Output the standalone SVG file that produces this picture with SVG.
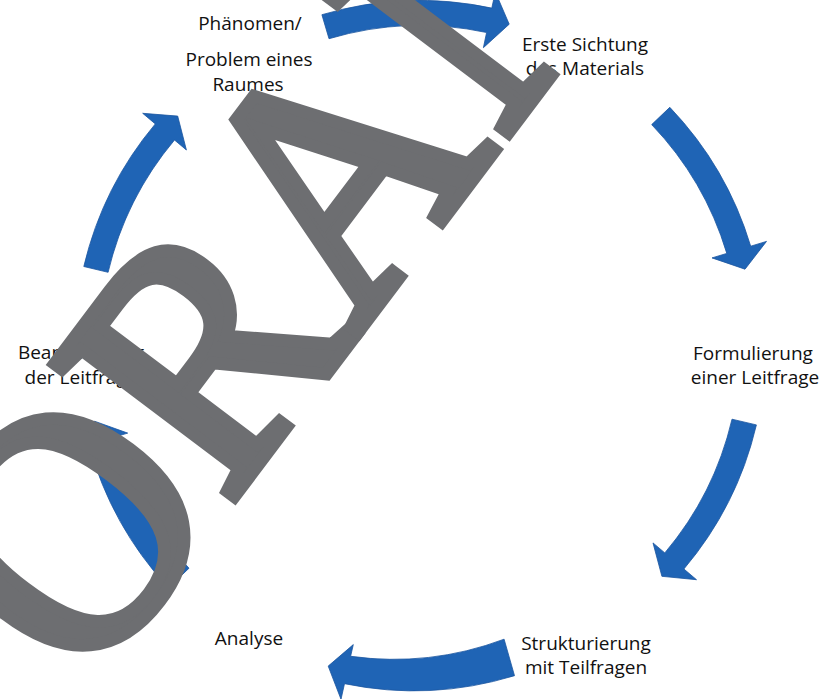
<svg xmlns="http://www.w3.org/2000/svg" width="822" height="699" viewBox="0 0 822 699">
  <style>
    .arrow { fill: #1f64b5; stroke: #1a56a0; stroke-width: 0.8; stroke-linejoin: miter; }
    .lbl { font-family: "Open Sans", "Noto Sans", "Liberation Sans", sans-serif; font-size: 19px; fill: #111111; text-anchor: middle; }
    .wm { font-family: "Liberation Serif", "Times New Roman", serif; font-size: 341px; fill: #6d6e71; stroke: #6d6e71; stroke-width: 13; stroke-linejoin: miter; stroke-miterlimit: 4; font-kerning: none; }
  </style>
  <rect width="822" height="699" fill="#ffffff"/>
  <g id="connectors">
    <path id="arrow1" class="arrow" d="M 321.9 14.7 A 345.5 345.5 0 0 1 491.8 8.1 L 495.3 -8.1 L 509.2 24.2 L 483.4 47.7 L 486.6 32.5 A 320.5 320.5 0 0 0 329.0 38.7 Z"/>
    <path id="arrow2" class="arrow" d="M 669.8 107.3 A 345.5 345.5 0 0 1 750.7 246.2 L 766.5 241.4 L 745.0 269.2 L 712.0 257.9 L 726.8 253.4 A 320.5 320.5 0 0 0 651.7 124.6 Z"/>
    <path id="arrow3" class="arrow" d="M 756.4 424.9 A 345.5 345.5 0 0 1 683.9 569.0 L 696.5 579.7 L 661.9 576.3 L 653.0 542.9 L 664.8 552.9 A 320.5 320.5 0 0 0 732.0 419.2 Z"/>
    <path id="arrow4" class="arrow" d="M 514.5 675.7 A 345 345 0 0 1 344.5 683.7 L 341.0 699.3 L 328.2 666.1 L 353.3 644.6 L 350.6 656.3 A 315 315 0 0 0 504.1 639.2 Z"/>
    <path id="arrow5" class="arrow" d="M 168.5 588.0 A 347 347 0 0 1 88.9 444.7 L 73.1 449.4 L 94.5 421.2 L 127.7 433.1 L 112.9 437.6 A 320.5 320.5 0 0 0 189.0 568.2 Z"/>
    <path id="arrow6" class="arrow" d="M 83.8 266.5 A 345.5 345.5 0 0 1 155.3 123.9 L 142.7 113.3 L 177.7 116.1 L 186.4 150.0 L 174.5 140.0 A 320.5 320.5 0 0 0 108.1 272.3 Z"/>
  </g>
  <g id="node-phaenomen">
    <text class="lbl" x="250" y="30">Phänomen/</text>
    <text class="lbl" x="249" y="66">Problem eines</text>
    <text class="lbl" x="248" y="91">Raumes</text>
  </g>
  <g id="node-sichtung">
    <text class="lbl" x="585" y="51">Erste Sichtung</text>
    <text class="lbl" x="585" y="75">des Materials</text>
  </g>
  <g id="node-formulierung">
    <text class="lbl" x="753" y="360">Formulierung</text>
    <text class="lbl" x="755" y="384">einer Leitfrage</text>
  </g>
  <g id="node-strukturierung">
    <text class="lbl" x="586" y="650">Strukturierung</text>
    <text class="lbl" x="586" y="674">mit Teilfragen</text>
  </g>
  <g id="node-analyse">
    <text class="lbl" x="249" y="645">Analyse</text>
  </g>
  <g id="node-beantwortung">
    <text class="lbl" x="81" y="359">Beantwortung</text>
    <text class="lbl" x="81" y="384">der Leitfrage</text>
  </g>
  <g id="watermark">
    <text class="wm" transform="translate(-54,879) rotate(-53) scale(0.949,1)" dx="0 0 0 -2 10.4">VORANSICHT</text>
  </g>
</svg>
